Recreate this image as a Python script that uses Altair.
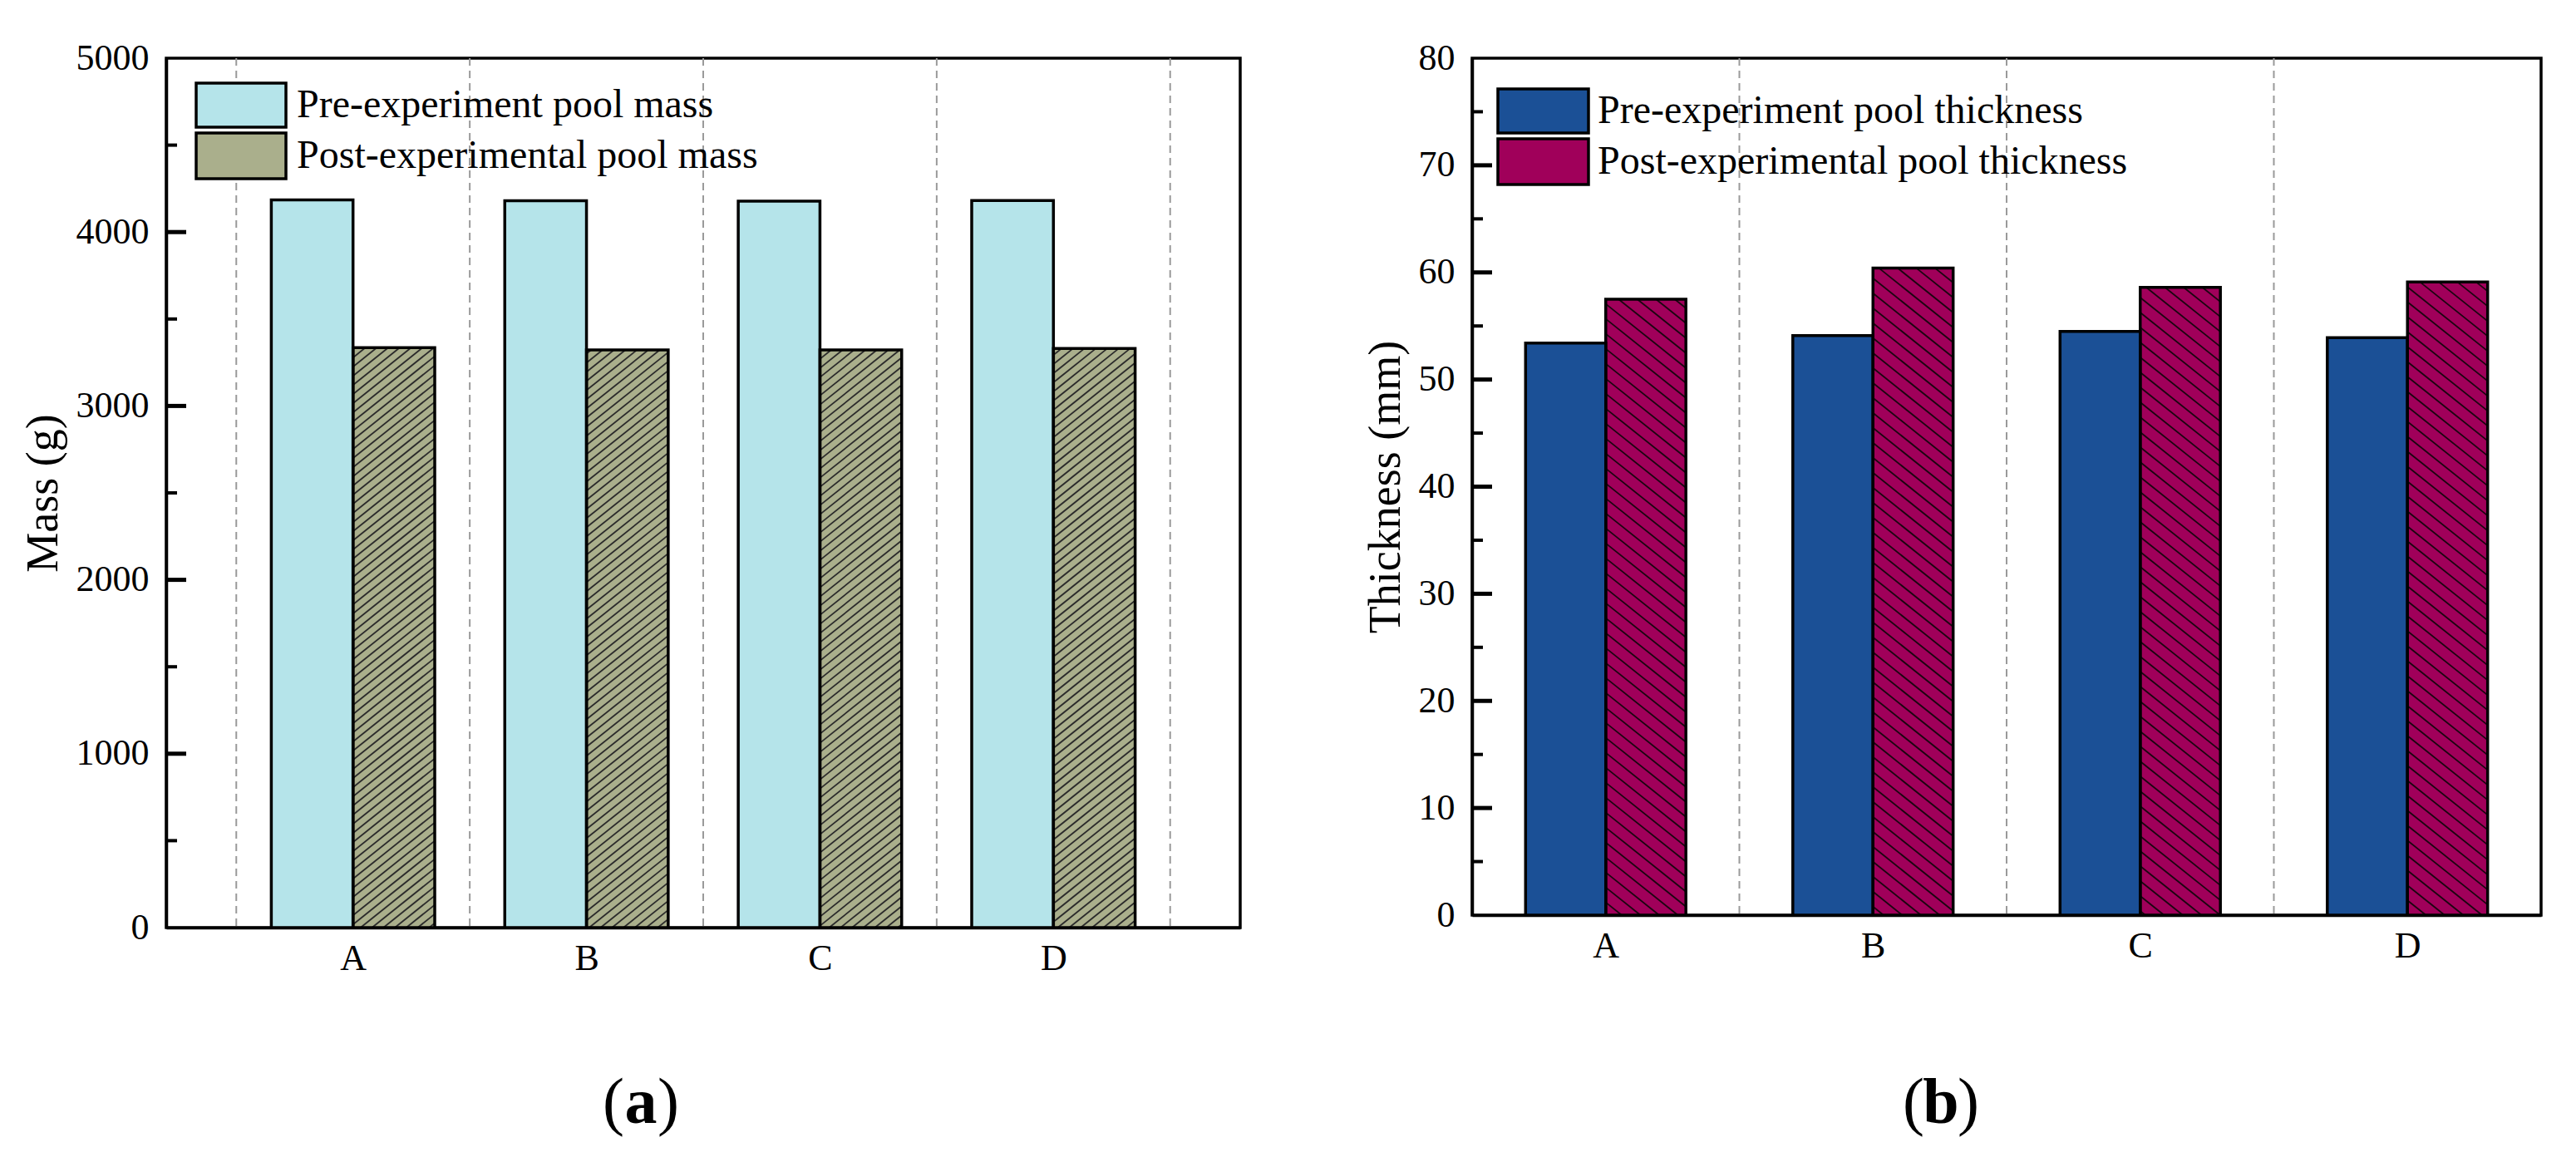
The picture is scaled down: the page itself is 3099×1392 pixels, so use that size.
import json
import numpy as np
import pandas as pd
import altair as alt

# values
categories = ["A", "B", "C", "D"]
mass_pre = [4185, 4180, 4178, 4182]
mass_post = [3335, 3322, 3322, 3331]
thick_pre = [53.4, 54.1, 54.5, 53.9]
thick_post = [57.5, 60.4, 58.6, 59.1]

mass_ticks = [0, 1000, 2000, 3000, 4000, 5000]
thick_ticks = [0, 10, 20, 30, 40, 50, 60, 70, 80]

names_a = ["Pre-experiment pool mass", "Post-experimental pool mass"]
names_b = ["Pre-experiment pool thickness", "Post-experimental pool thickness"]
captions = ["a", "b"]

FONT = "Liberation Serif"


def hatch(u0, u1, v0, v1, gap, m):
    # hatch lines v = m*u + k*gap clipped to a rectangle, pixel space (v up)
    corners = [v - m * u for u in (u0, u1) for v in (v0, v1)]
    k0 = int(np.floor(min(corners) / gap))
    k1 = int(np.ceil(max(corners) / gap))
    segs = []
    for k in range(k0, k1 + 1):
        d = k * gap
        lo, hi = sorted(((v0 - d) / m, (v1 - d) / m))
        a, b = max(u0, lo), min(u1, hi)
        if b - a > 0.5:
            segs.append((a, m * a + d, b, m * b + d))
    return segs


def panel(pre, post, ticks, xdom, bar_w, W, H, y_title, fills, slope,
          gap, hatch_color, hatch_width, names, leg, caption, cap_x, cap_y):
    ymax = ticks[-1]
    kx = W / (xdom[1] - xdom[0])
    ky = H / ymax

    def to_x(u):
        return xdom[0] + u / kx

    def to_y(py_top):
        return ymax - py_top / ky

    rows = []
    for i, cat in enumerate(categories):
        pos = i + 1
        rows.append(dict(cat=cat, series=names[0], x=pos - bar_w, x2=pos, y=pre[i], y0=0))
        rows.append(dict(cat=cat, series=names[1], x=pos, x2=pos + bar_w, y=post[i], y0=0))
    bars = pd.DataFrame(rows)

    segs = []
    for r in bars[bars.series == names[1]].itertuples():
        for a, va, b, vb in hatch((r.x - xdom[0]) * kx, (r.x2 - xdom[0]) * kx,
                                  0, r.y * ky, gap, slope):
            segs.append(dict(x=to_x(a), y=va / ky, x2=to_x(b), y2=vb / ky))

    # legend boxes (pixel layout inside the plot, mapped back through the scales)
    sx0, sx1, tx = leg["x0"], leg["x1"], leg["tx"]
    leg_rows = []
    for name, (py0, py1) in zip(names, leg["ys"]):
        leg_rows.append(dict(series=name, x=to_x(sx0), x2=to_x(sx1),
                             y=to_y(py0), y0=to_y(py1),
                             tx=to_x(tx), ty=to_y((py0 + py1) / 2)))
    legend_df = pd.DataFrame(leg_rows)
    py0, py1 = leg["ys"][1]
    for a, va, b, vb in hatch(sx0, sx1, H - py1, H - py0, gap, slope):
        segs.append(dict(x=to_x(a), y=va / ky, x2=to_x(b), y2=vb / ky))
    hatch_df = pd.DataFrame(segs)

    xs = alt.Scale(domain=xdom, nice=False, zero=False)
    ys = alt.Scale(domain=[0, ymax], nice=False, zero=True)
    color = alt.Color("series:N", scale=alt.Scale(domain=names, range=fills), legend=None)
    label_expr = json.dumps(categories) + "[datum.value - 1]"

    x_axis = alt.Axis(values=[1, 2, 3, 4], labelExpr=label_expr, ticks=False, grid=False,
                      labelFontSize=44, labelFont=FONT, labelColor="black", labelPadding=15,
                      labelFlush=False, labelOverlap=False,
                      domainColor="black", domainWidth=3.5)
    y_axis = alt.Axis(values=ticks, format="d", ticks=False, grid=False,
                      labelFontSize=44, labelFont=FONT,
                      labelColor="black", labelPadding=21, labelOverlap=False, labelFlush=False,
                      titleFont=FONT, titleFontSize=54, titleFontWeight="normal",
                      titleColor="black", titlePadding=12,
                      domainColor="black", domainWidth=3.5)

    def X(field):
        return alt.X(field, scale=xs, axis=x_axis, title=None)

    def Y(field):
        return alt.Y(field, scale=ys, axis=y_axis, title=y_title)

    halves = [i + 0.5 for i in range(len(categories) + 1)]
    inner = [g for g in halves if xdom[0] < g < xdom[1]]
    grid = alt.Chart(pd.DataFrame({"g": inner})).mark_rule(
        color="#9a9a9a", strokeWidth=2, strokeDash=[9, 6]
    ).encode(x=X("g:Q"), y=alt.value(0), y2=alt.value(H))

    bar_fill = alt.Chart(bars).mark_rect().encode(
        x=X("x:Q"), x2="x2:Q", y=Y("y:Q"), y2="y0:Q", color=color)

    hatch_lines = alt.Chart(hatch_df).mark_rule(color=hatch_color, strokeWidth=hatch_width).encode(
        x=X("x:Q"), x2="x2:Q", y=Y("y:Q"), y2="y2:Q")

    bar_edge = alt.Chart(bars).mark_rect(fillOpacity=0, stroke="black", strokeWidth=3.5).encode(
        x=X("x:Q"), x2="x2:Q", y=Y("y:Q"), y2="y0:Q")

    minor = [(a + b) / 2 for a, b in zip(ticks[:-1], ticks[1:])]
    major_ticks = alt.Chart(pd.DataFrame({"t": ticks[1:-1]})).mark_rule(
        color="black", strokeWidth=5).encode(
        y=Y("t:Q"), x=alt.value(0), x2=alt.value(24))
    minor_ticks = alt.Chart(pd.DataFrame({"t": minor})).mark_rule(
        color="black", strokeWidth=4).encode(
        y=Y("t:Q"), x=alt.value(0), x2=alt.value(13))

    leg_fill = alt.Chart(legend_df).mark_rect().encode(
        x=X("x:Q"), x2="x2:Q", y=Y("y:Q"), y2="y0:Q", color=color)
    leg_edge = alt.Chart(legend_df).mark_rect(fillOpacity=0, stroke="black", strokeWidth=3.5).encode(
        x=X("x:Q"), x2="x2:Q", y=Y("y:Q"), y2="y0:Q")
    leg_text = alt.Chart(legend_df).mark_text(
        align="left", baseline="middle", font=FONT, fontSize=48, color="black").encode(
        x=X("tx:Q"), y=Y("ty:Q"), text="series:N")

    cap_df = pd.DataFrame({"c": [caption]})
    cap_mid = alt.Chart(cap_df).mark_text(
        align="center", baseline="alphabetic", font=FONT, fontSize=78, fontWeight="bold",
        color="black").encode(x=alt.value(cap_x), y=alt.value(cap_y), text="c:N")
    cap_l = alt.Chart(cap_df).mark_text(
        text="(", align="right", baseline="alphabetic", font=FONT, fontSize=78,
        color="black").encode(x=alt.value(cap_x - 20), y=alt.value(cap_y))
    cap_r = alt.Chart(cap_df).mark_text(
        text=")", align="left", baseline="alphabetic", font=FONT, fontSize=78,
        color="black").encode(x=alt.value(cap_x + 20), y=alt.value(cap_y))

    return alt.layer(grid, bar_fill, hatch_lines, bar_edge, major_ticks, minor_ticks,
                     leg_fill, leg_edge, leg_text, cap_l, cap_mid, cap_r
                     ).properties(width=W, height=H)


left = panel(mass_pre, mass_post, mass_ticks, [0.2, 4.8], 0.35, 1292, 1046, "Mass (g)",
             ["#B5E4EA", "#AAAF8C"], 0.8, 11, "#2b2b2b", 1.8, names_a,
             dict(x0=36, x1=144, ys=[(30, 83), (90, 145)], tx=157), captions[0], 571, 1281)

right = panel(thick_pre, thick_post, thick_ticks, [0.5, 4.5], 0.3, 1286, 1031, "Thickness (mm)",
              ["#1B5096", "#A0005A"], -0.8, 18, "#1a0610", 1.8, names_b,
              dict(x0=31, x1=140, ys=[(37, 90), (97, 152)], tx=151), captions[1], 564, 1281)

chart = alt.hconcat(left, right, spacing=144).resolve_scale(
    color="independent"
).properties(
    padding={"left": 15, "top": 38, "right": 8, "bottom": 8},
    background="white"
).configure(font=FONT).configure_view(stroke="black", strokeWidth=3.5)

chart.save("out.html", embed_options={"renderer": "svg", "actions": False})
